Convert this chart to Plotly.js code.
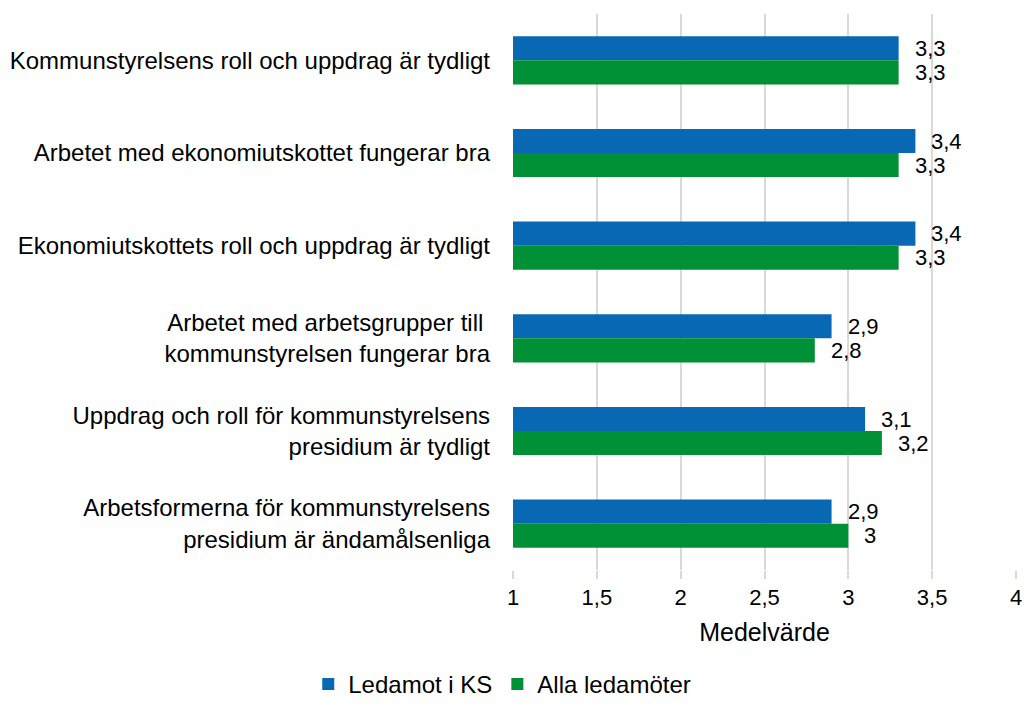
<!DOCTYPE html>
<html><head><meta charset="utf-8">
<script src="https://cdn.plot.ly/plotly-3.0.1.min.js"></script>
<style>body{margin:0}#chart{width:1025px;height:707px}</style>
</head><body><div id="chart"></div>
<script>
const categories = [
  "Kommunstyrelsens roll och uppdrag är tydligt",
  "Arbetet med ekonomiutskottet fungerar bra",
  "Ekonomiutskottets roll och uppdrag är tydligt",
  "Arbetet med arbetsgrupper till <br>kommunstyrelsen fungerar bra",
  "Uppdrag och roll för kommunstyrelsens<br>presidium är tydligt",
  "Arbetsformerna för kommunstyrelsens<br>presidium är ändamålsenliga"
];
const ledamotKS = [3.3, 3.4, 3.4, 2.9, 3.1, 2.9];
const allaLedamoter = [3.3, 3.3, 3.3, 2.8, 3.2, 3.0];
const seriesNames = ["Ledamot i KS", "Alla ledamöter"];
const xTicks = [1, 1.5, 2, 2.5, 3, 3.5, 4];
const xTickLabels = ["1", "1,5", "2", "2,5", "3", "3,5", "4"];

const fmt = v => String(v).replace('.', ',');
const font = "Liberation Sans, Arial, sans-serif";

const traces = [
  {type:'bar', orientation:'h', name:seriesNames[0], y:categories, x:ledamotKS,
   marker:{color:'#0868b3'}, hoverinfo:'x'},
  {type:'bar', orientation:'h', name:seriesNames[1], y:categories, x:allaLedamoter,
   marker:{color:'#009035'}, hoverinfo:'x'}
];

const annotations = [];
categories.forEach((c,i)=>{
  annotations.push({x:ledamotKS[i], y:c, xref:'x', yref:'y', text:fmt(ledamotKS[i]),
    showarrow:false, xanchor:'left', yanchor:'middle', xshift:14, yshift:12,
    font:{family:font, size:22, color:'#000'}});
  annotations.push({x:allaLedamoter[i], y:c, xref:'x', yref:'y', text:fmt(allaLedamoter[i]),
    showarrow:false, xanchor:'left', yanchor:'middle', xshift:14, yshift:-12,
    font:{family:font, size:22, color:'#000'}});
});

const layout = {
  width:1025, height:707,
  margin:{l:513, r:9, t:14, b:137},
  paper_bgcolor:'#fff', plot_bgcolor:'#fff',
  font:{family:font, size:22, color:'#000'},
  barmode:'group', bargap:0.48, bargroupgap:0,
  xaxis:{range:[1,4], tickvals:xTicks, ticktext:xTickLabels,
    showgrid:true, gridcolor:'#d9d9d9', gridwidth:2, zeroline:false,
    showline:false, ticks:'outside', ticklen:8, tickcolor:'#d9d9d9', tickwidth:2,
    tickfont:{family:font, size:22, color:'#000'},
    title:{text:'Medelvärde', font:{family:font, size:25, color:'#000'}, standoff:14}},
  yaxis:{autorange:'reversed', type:'category', showgrid:false, showline:false,
    ticks:'', ticklabelstandoff:22,
    tickfont:{family:font, size:24, color:'#000'}},
  showlegend:true,
  legend:{orientation:'h', xref:'container', x:0.49, xanchor:'center',
    yref:'container', y:0.0, yanchor:'bottom',
    font:{family:font, size:24, color:'#000'}, itemwidth:30, tracegroupgap:0},
  annotations: annotations
};

Plotly.newPlot('chart', traces, layout, {displayModeBar:false});
</script>
</body></html>
